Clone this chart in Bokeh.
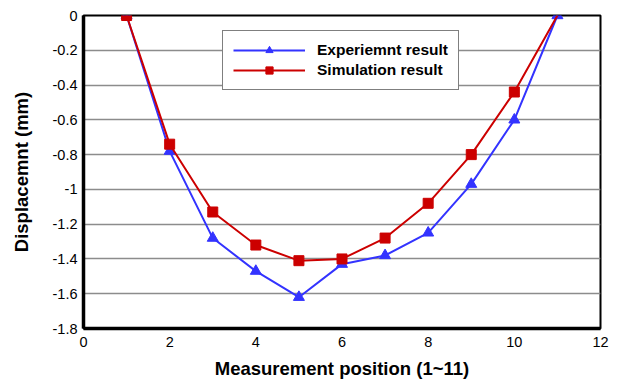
from bokeh.plotting import figure
from bokeh.models import Range1d, FixedTicker, CustomJSTickFormatter, Legend, LegendItem
from bokeh.embed import file_html
from bokeh.resources import INLINE

positions = [1, 2, 3, 4, 5, 6, 7, 8, 9, 10, 11]
experiment = [0, -0.78, -1.28, -1.47, -1.62, -1.43, -1.38, -1.25, -0.97, -0.60, 0]
simulation = [0, -0.74, -1.13, -1.32, -1.41, -1.40, -1.28, -1.08, -0.80, -0.44, 0]
x_ticks = [0, 2, 4, 6, 8, 10, 12]
y_ticks = [0, -0.2, -0.4, -0.6, -0.8, -1.0, -1.2, -1.4, -1.6, -1.8]

FONT = "Liberation Sans"
BLUE = "#3333ff"
RED = "#cc0000"

p = figure(width=613, height=381, output_backend="svg", toolbar_location=None,
           x_range=Range1d(0, 12), y_range=Range1d(-1.8, 0),
           min_border_left=83, min_border_right=13, min_border_top=15, min_border_bottom=48)

p.background_fill_color = "white"
p.border_fill_color = "white"
p.outline_line_color = "black"
p.outline_line_width = 2

p.xgrid.visible = False
p.ygrid.grid_line_color = "#8c8c8c"
p.ygrid.grid_line_width = 1.5

for ax in (p.xaxis[0], p.yaxis[0]):
    ax.axis_line_color = "black"
    ax.axis_line_width = 3.5
    ax.major_tick_in = 0
    ax.major_tick_out = 0
    ax.minor_tick_in = 0
    ax.minor_tick_out = 0
    ax.major_label_text_font = FONT
    ax.major_label_text_font_size = "14.5px"
    ax.major_label_text_color = "black"
    ax.axis_label_text_font = FONT
    ax.axis_label_text_font_size = "18.5px"
    ax.axis_label_text_font_style = "bold"
    ax.axis_label_text_color = "black"

p.xaxis.ticker = FixedTicker(ticks=x_ticks)
p.yaxis.ticker = FixedTicker(ticks=y_ticks)
p.yaxis.formatter = CustomJSTickFormatter(code="return String(Number(tick.toFixed(1)));")
p.xaxis.formatter = CustomJSTickFormatter(code="return String(Math.round(tick));")
p.xaxis.major_label_standoff = 8
p.yaxis.major_label_standoff = 6
p.xaxis.axis_label = "Measurement position (1~11)"
p.yaxis.axis_label = "Displacemnt (mm)"
p.xaxis.axis_label_standoff = 8
p.yaxis.axis_label_standoff = 18

l1 = p.line(positions, experiment, line_color=BLUE, line_width=2)
m1 = p.scatter(positions, experiment, marker="triangle", size=11,
               fill_color=BLUE, line_color=BLUE)
l2 = p.line(positions, simulation, line_color=RED, line_width=2)
m2 = p.scatter(positions[:-1], simulation[:-1], marker="square", size=10,
               fill_color=RED, line_color=RED)

legend = Legend(items=[LegendItem(label="Experiemnt result", renderers=[l1, m1]),
                       LegendItem(label="Simulation result", renderers=[l2, m2])],
                location=(139, 238))
legend.label_text_font = FONT
legend.label_text_font_size = "15.5px"
legend.label_text_font_style = "bold"
legend.label_text_color = "black"
legend.glyph_width = 72
legend.glyph_height = 18
legend.label_height = 18
legend.label_standoff = 12
legend.spacing = 2
legend.padding = 10
legend.border_line_color = "black"
legend.border_line_width = 1
legend.background_fill_color = "white"
legend.background_fill_alpha = 1
p.add_layout(legend)

open("out.html", "w").write(file_html(p, INLINE))
